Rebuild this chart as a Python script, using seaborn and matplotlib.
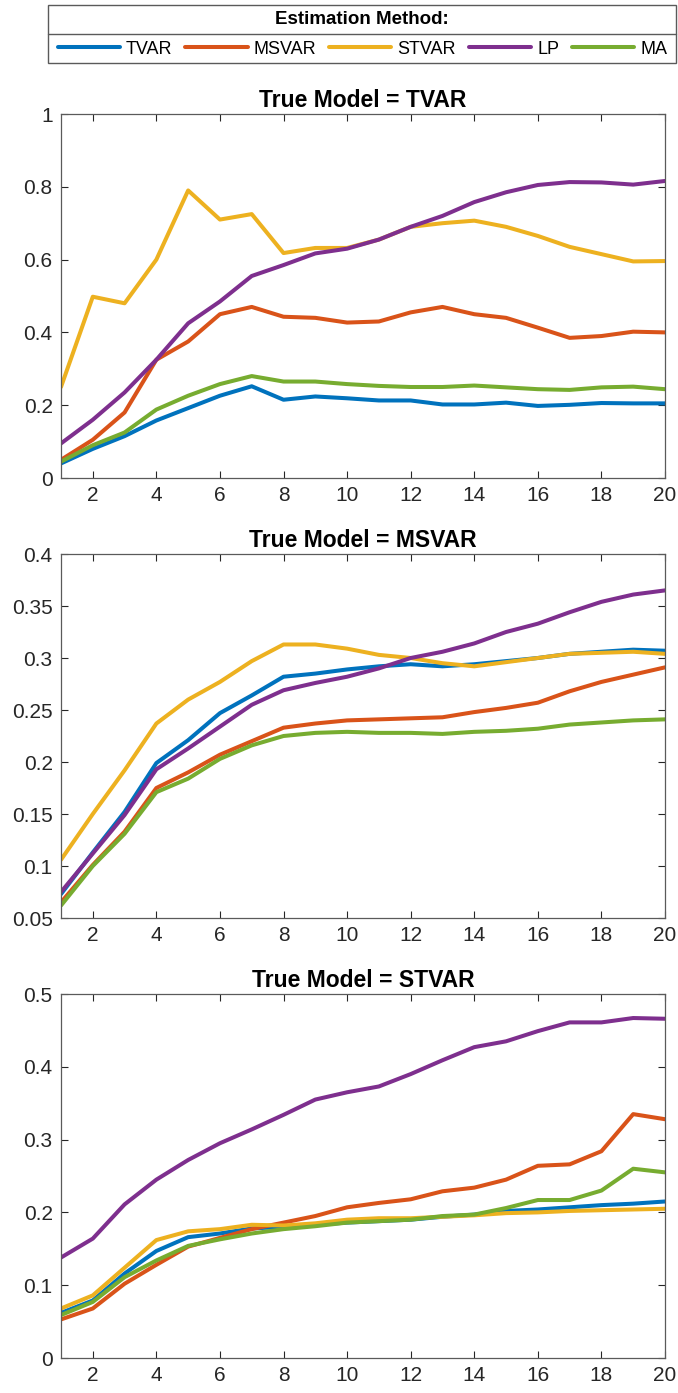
import numpy as np
import pandas as pd
import matplotlib
matplotlib.use('Agg')
import matplotlib.pyplot as plt
from matplotlib.lines import Line2D
from matplotlib.patches import Rectangle
import seaborn as sns

horizons = list(range(1, 21))
methods = ['TVAR', 'MSVAR', 'STVAR', 'LP', 'MA']
colors = ['#0072BD', '#D95319', '#EDB120', '#7E2F8E', '#77AC30']

# True model = TVAR
tvar_tvar = [0.040, 0.080, 0.115, 0.158, 0.192, 0.226, 0.252, 0.215, 0.224, 0.219,
             0.213, 0.213, 0.202, 0.202, 0.207, 0.198, 0.201, 0.206, 0.205, 0.205]
tvar_msvar = [0.050, 0.105, 0.180, 0.325, 0.375, 0.450, 0.470, 0.443, 0.440, 0.427,
              0.430, 0.455, 0.470, 0.450, 0.440, 0.413, 0.385, 0.390, 0.402, 0.400]
tvar_stvar = [0.250, 0.498, 0.480, 0.600, 0.790, 0.710, 0.725, 0.618, 0.632, 0.632,
              0.655, 0.690, 0.700, 0.707, 0.690, 0.665, 0.635, 0.615, 0.595, 0.596]
tvar_lp = [0.095, 0.160, 0.235, 0.325, 0.425, 0.485, 0.555, 0.585, 0.617, 0.630,
           0.655, 0.690, 0.720, 0.758, 0.785, 0.805, 0.813, 0.812, 0.806, 0.816]
tvar_ma = [0.045, 0.090, 0.125, 0.188, 0.226, 0.258, 0.280, 0.265, 0.265, 0.258,
           0.253, 0.250, 0.250, 0.254, 0.249, 0.244, 0.242, 0.249, 0.251, 0.244]

# True model = MSVAR
msvar_tvar = [0.073, 0.113, 0.152, 0.199, 0.221, 0.247, 0.264, 0.282, 0.285, 0.289,
              0.292, 0.294, 0.292, 0.294, 0.297, 0.300, 0.304, 0.306, 0.308, 0.307]
msvar_msvar = [0.065, 0.101, 0.133, 0.175, 0.190, 0.207, 0.220, 0.233, 0.237, 0.240,
               0.241, 0.242, 0.243, 0.248, 0.252, 0.257, 0.268, 0.277, 0.284, 0.291]
msvar_stvar = [0.106, 0.150, 0.192, 0.237, 0.260, 0.277, 0.297, 0.313, 0.313, 0.309,
               0.303, 0.300, 0.295, 0.292, 0.296, 0.300, 0.304, 0.305, 0.306, 0.304]
msvar_lp = [0.075, 0.112, 0.149, 0.193, 0.213, 0.234, 0.255, 0.269, 0.276, 0.282,
            0.290, 0.300, 0.306, 0.314, 0.325, 0.333, 0.344, 0.354, 0.361, 0.365]
msvar_ma = [0.062, 0.100, 0.131, 0.171, 0.184, 0.203, 0.216, 0.225, 0.228, 0.229,
            0.228, 0.228, 0.227, 0.229, 0.230, 0.232, 0.236, 0.238, 0.240, 0.241]

# True model = STVAR
stvar_tvar = [0.062, 0.079, 0.116, 0.147, 0.166, 0.171, 0.178, 0.180, 0.183, 0.186,
              0.188, 0.190, 0.194, 0.197, 0.202, 0.204, 0.207, 0.210, 0.212, 0.215]
stvar_msvar = [0.053, 0.068, 0.102, 0.128, 0.153, 0.165, 0.177, 0.186, 0.195, 0.207,
               0.213, 0.218, 0.229, 0.234, 0.245, 0.264, 0.266, 0.284, 0.335, 0.328]
stvar_stvar = [0.068, 0.086, 0.124, 0.162, 0.174, 0.177, 0.183, 0.182, 0.185, 0.190,
               0.192, 0.192, 0.194, 0.196, 0.199, 0.200, 0.202, 0.203, 0.204, 0.205]
stvar_lp = [0.138, 0.164, 0.211, 0.245, 0.272, 0.295, 0.314, 0.334, 0.355, 0.365,
            0.373, 0.390, 0.409, 0.427, 0.435, 0.449, 0.461, 0.461, 0.467, 0.466]
stvar_ma = [0.059, 0.077, 0.111, 0.134, 0.154, 0.163, 0.171, 0.177, 0.181, 0.186,
            0.188, 0.190, 0.195, 0.197, 0.206, 0.217, 0.217, 0.230, 0.260, 0.255]

panels = [
    ('TVAR', [tvar_tvar, tvar_msvar, tvar_stvar, tvar_lp, tvar_ma],
     (0, 1), np.arange(0, 1.01, 0.2), ['0', '0.2', '0.4', '0.6', '0.8', '1']),
    ('MSVAR', [msvar_tvar, msvar_msvar, msvar_stvar, msvar_lp, msvar_ma],
     (0.05, 0.4), np.arange(0.05, 0.401, 0.05),
     ['0.05', '0.1', '0.15', '0.2', '0.25', '0.3', '0.35', '0.4']),
    ('STVAR', [stvar_tvar, stvar_msvar, stvar_stvar, stvar_lp, stvar_ma],
     (0, 0.5), np.arange(0, 0.501, 0.1), ['0', '0.1', '0.2', '0.3', '0.4', '0.5']),
]

sns.set_theme(style='ticks')
plt.rcParams['font.family'] = ['Liberation Sans', 'DejaVu Sans']
ink = '#262626'
frame_col = '#5a5a5a'

W, H = 678, 1393
fig = plt.figure(figsize=(W / 100, H / 100), dpi=100)

# axes boxes in pixels: (top, bottom)
boxes = [(114, 478), (554, 918), (994, 1358)]
left, right = 61, 665

for (name, series, ylim, yticks, ylabels), (top, bot) in zip(panels, boxes):
    ax = fig.add_axes([left / W, 1 - bot / H, (right - left) / W, (bot - top) / H])
    df = pd.DataFrame({
        'horizon': horizons * len(methods),
        'value': sum(series, []),
        'method': [m for m in methods for _ in horizons],
    })
    sns.lineplot(data=df, x='horizon', y='value', hue='method', hue_order=methods,
                 palette=colors, linewidth=2.9, legend=False, ax=ax)
    ax.set_xlim(1, 20)
    ax.set_ylim(*ylim)
    ax.set_xticks(range(2, 21, 2))
    ax.set_yticks(yticks)
    ax.set_yticklabels(ylabels)
    ax.set_xlabel('')
    ax.set_ylabel('')
    ax.set_title(f'True Model = {name}', fontsize=16.5, fontweight='bold', color='black', pad=5)
    ax.tick_params(direction='in', length=5, width=0.8, colors=ink, labelsize=15,
                   top=True, right=True, pad=6)
    for sp in ax.spines.values():
        sp.set_visible(True)
        sp.set_color(frame_col)
        sp.set_linewidth(0.9)

# legend box: frame, title row and separator
bx0, bx1, by0, by1, ysep = 48, 676, 5, 63, 34
fig.add_artist(Rectangle((bx0 / W, 1 - by1 / H), (bx1 - bx0) / W, (by1 - by0) / H,
                         transform=fig.transFigure, fill=False, edgecolor=frame_col, lw=1.0))
fig.add_artist(Line2D([bx0 / W, bx1 / W], [1 - ysep / H, 1 - ysep / H],
                      color=frame_col, lw=1.0, transform=fig.transFigure))
fig.text((bx0 + bx1) / 2 / W, 1 - (by0 + ysep) / 2 / H, 'Estimation Method:',
         ha='center', va='center', fontsize=13.5, fontweight='bold', color='black')

handles = [Line2D([], [], color=c, lw=2.9) for c in colors]
leg = fig.legend(handles, methods, loc='center', ncol=5,
                 bbox_to_anchor=(362.5 / W, 1 - 49 / H), fontsize=13,
                 frameon=False, borderpad=0, borderaxespad=0,
                 handlelength=3.45, handletextpad=0.33, columnspacing=0.72)
for t in leg.get_texts():
    t.set_color('black')

fig.savefig('out.png', dpi=100)
